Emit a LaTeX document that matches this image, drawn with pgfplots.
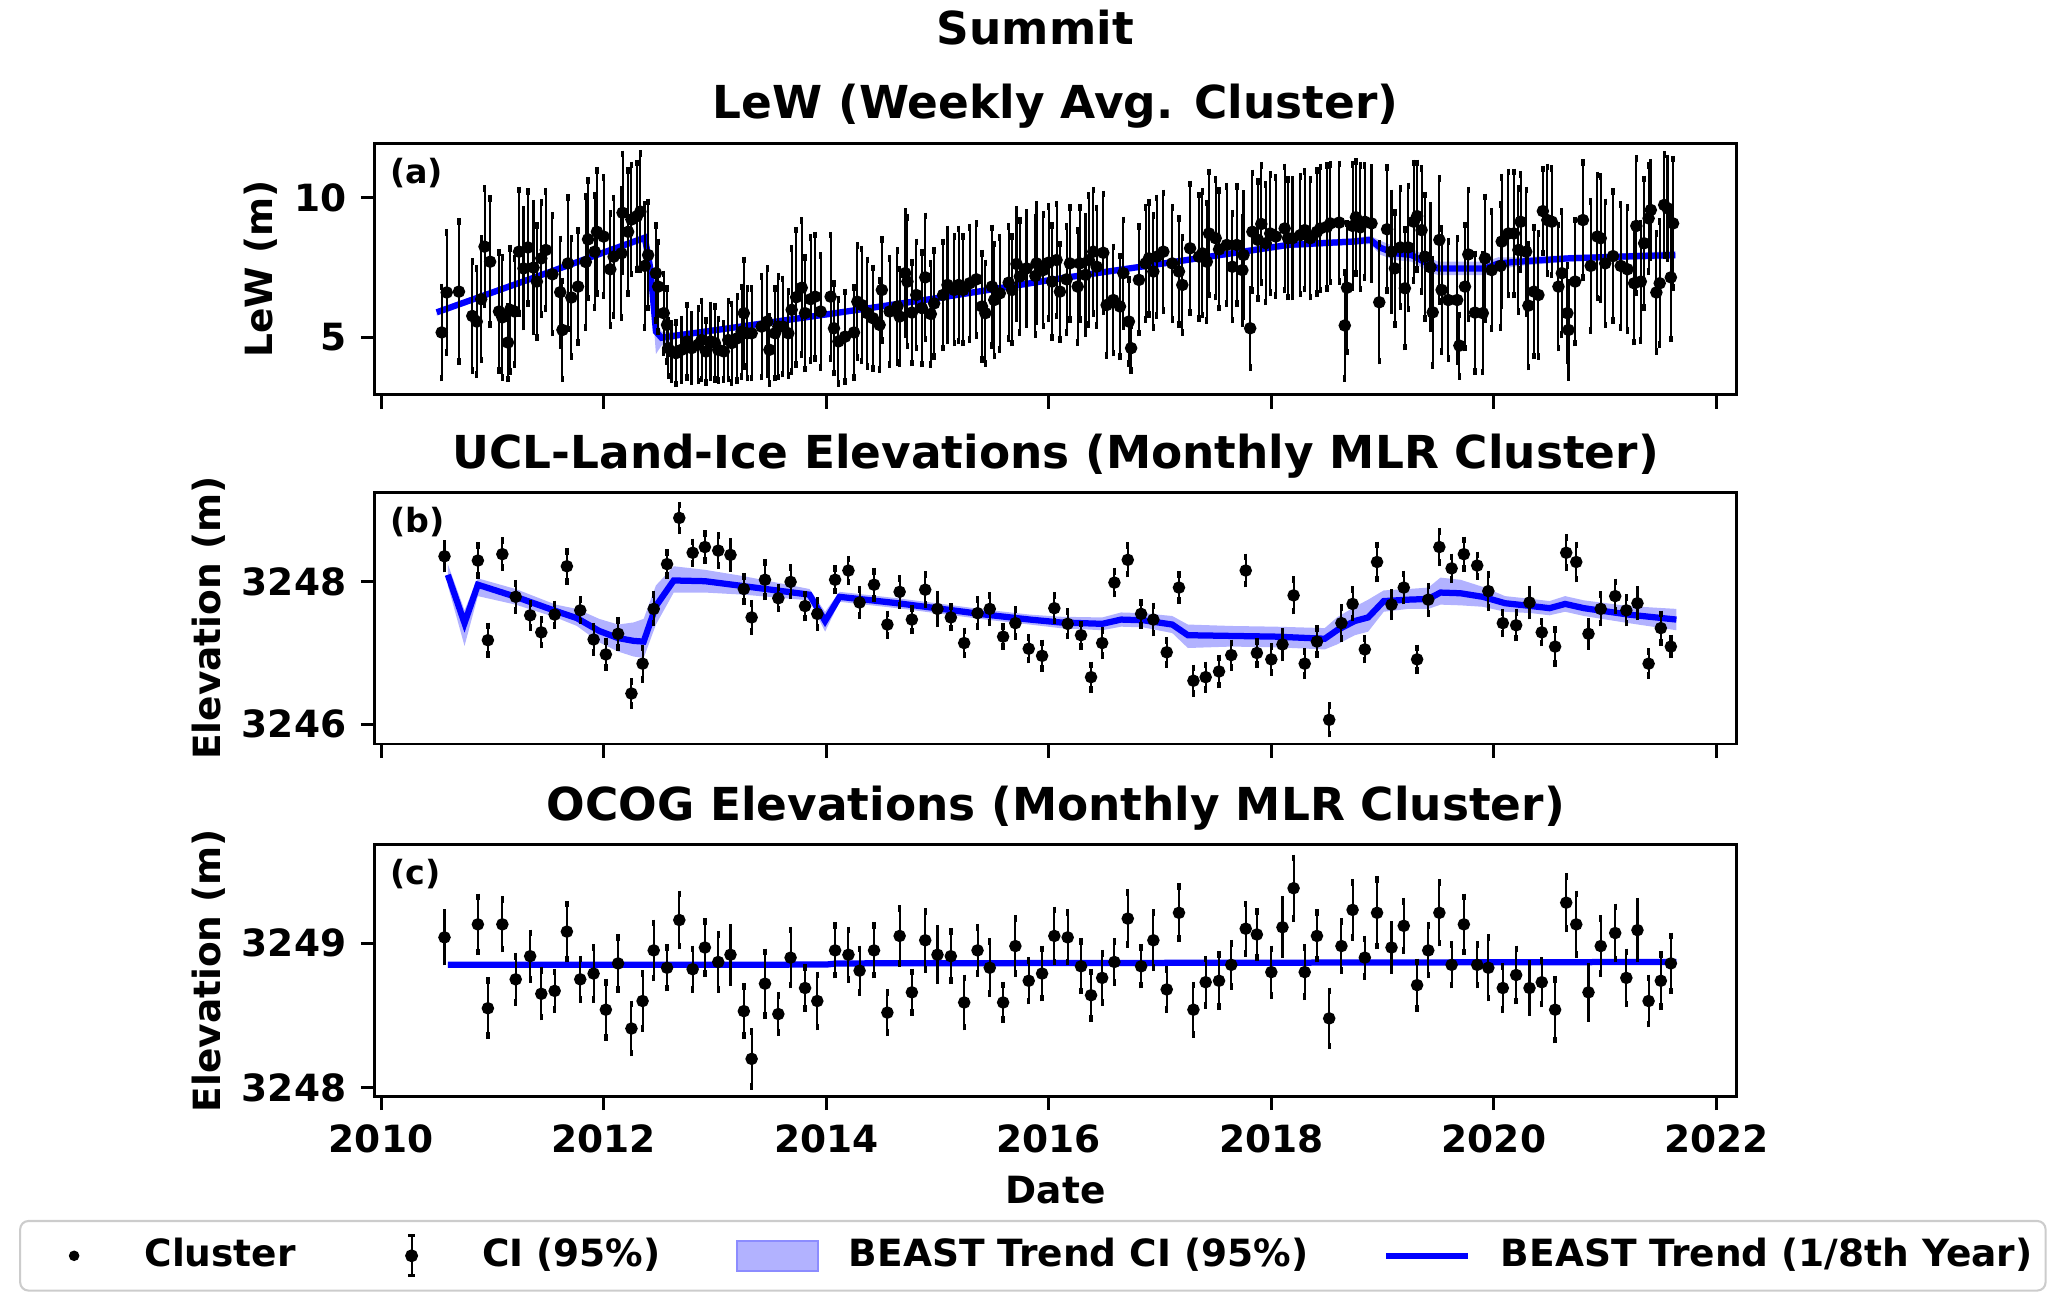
\documentclass[border=0pt]{standalone}
\usepackage{fontspec}
\setmainfont{DejaVu Sans}
\usepackage{pgfplots}
\usepackage{pgfplotstable}
\pgfplotsset{compat=1.18}
\usepgfplotslibrary{fillbetween}

\pgfplotstableread{
x y e
2010.545 5.17 1.63
2010.59 6.60 2.14
2010.70 6.63 2.5
2010.82 5.76 1.95
2010.86 5.56 1.9
2010.90 6.36 2.17
2010.93 8.24 2.08
2010.98 7.70 2.25
2011.06 5.92 2.1
2011.09 5.71 2.14
2011.14 4.81 1.3
2011.16 5.98 2.2
2011.20 5.92 1.9
2011.24 8.06 2.2
2011.28 7.46 2.1
2011.32 8.21 2.0
2011.37 7.49 2.3
2011.40 6.99 2.0
2011.44 7.82 2.0
2011.48 8.12 2.1
2011.54 7.25 2.1
2011.61 6.61 1.9
2011.63 5.26 1.75
2011.68 7.64 2.35
2011.71 6.42 2.1
2011.77 6.81 2.0
2011.84 7.69 2.35
2011.86 8.50 2.1
2011.92 8.06 2.0
2011.94 8.77 2.2
2012.00 8.60 2.1
2012.06 7.43 2.0
2012.09 7.88 2.1
2012.16 8.00 2.3
2012.17 9.45 2.1
2012.22 8.77 2.2
2012.25 9.21 1.95
2012.30 9.33 1.9
2012.33 9.49 2.08
2012.37 7.55 2.2
2012.40 7.94 1.9
2012.47 7.29 1.7
2012.49 6.81 1.6
2012.54 5.86 1.4
2012.57 5.44 1.3
2012.58 4.61 1.0
2012.61 4.49 1.0
2012.65 4.43 1.1
2012.70 4.55 1.1
2012.75 4.85 1.3
2012.79 4.61 1.2
2012.85 4.73 1.3
2012.88 4.90 1.4
2012.92 4.49 1.1
2012.96 4.85 1.3
2013.00 4.79 1.3
2013.03 4.55 1.1
2013.08 4.49 1.0
2013.12 4.90 1.4
2013.15 4.79 1.4
2013.20 4.96 1.5
2013.24 5.20 1.6
2013.26 5.86 1.9
2013.29 5.14 1.6
2013.33 5.14 1.6
2013.42 5.38 1.8
2013.47 5.56 1.9
2013.49 4.55 1.2
2013.54 5.14 1.6
2013.57 5.38 1.8
2013.61 5.38 1.7
2013.66 5.14 1.5
2013.69 5.98 2.2
2013.73 6.43 2.4
2013.78 6.77 2.4
2013.81 5.86 2.0
2013.86 6.36 2.2
2013.90 6.45 2.2
2013.95 5.92 2.0
2014.04 6.45 2.2
2014.07 5.32 1.6
2014.11 4.85 1.5
2014.17 5.02 1.6
2014.25 5.17 1.6
2014.28 6.27 2.0
2014.32 6.15 2.0
2014.37 5.86 1.9
2014.42 5.68 1.8
2014.48 5.44 1.6
2014.50 6.69 1.8
2014.57 5.92 1.9
2014.64 6.10 2.0
2014.66 5.74 1.7
2014.71 7.29 2.2
2014.73 6.99 2.3
2014.77 5.88 1.8
2014.81 6.51 1.9
2014.86 6.04 2.0
2014.89 7.14 2.2
2014.94 5.83 1.8
2014.97 6.21 1.9
2015.05 6.51 1.9
2015.09 6.87 2.0
2015.15 6.69 1.9
2015.19 6.87 2.0
2015.23 6.69 1.9
2015.29 6.93 2.0
2015.35 7.07 2.0
2015.40 6.10 1.9
2015.43 5.86 1.8
2015.49 6.81 2.1
2015.51 6.33 2.0
2015.56 6.57 2.0
2015.64 6.95 2.0
2015.67 6.69 1.9
2015.71 7.62 1.95
2015.74 7.17 2.0
2015.80 7.46 2.0
2015.88 7.19 2.1
2015.89 7.64 2.1
2015.95 7.40 2.0
2016.00 7.67 2.0
2016.03 6.99 2.0
2016.07 7.76 2.0
2016.10 6.63 1.7
2016.16 7.07 1.9
2016.19 7.64 2.0
2016.26 6.81 2.0
2016.28 7.64 2.0
2016.33 7.23 2.1
2016.36 7.76 2.3
2016.40 8.06 2.2
2016.43 7.52 2.1
2016.49 8.02 2.1
2016.52 6.15 1.8
2016.58 6.33 1.9
2016.64 6.10 1.8
2016.67 7.29 1.9
2016.72 5.56 1.5
2016.74 4.61 0.8
2016.81 7.05 1.9
2016.87 7.64 2.0
2016.90 7.82 2.0
2016.94 7.35 2.0
2016.97 7.88 2.1
2017.03 8.06 2.1
2017.11 7.64 2.0
2017.17 7.35 1.9
2017.20 6.87 1.7
2017.27 8.18 2.3
2017.35 7.88 2.2
2017.38 8.00 2.2
2017.42 7.70 2.1
2017.44 8.71 2.2
2017.50 8.54 2.1
2017.53 8.14 2.1
2017.60 8.30 2.1
2017.65 7.52 1.9
2017.69 8.30 2.1
2017.74 7.40 1.9
2017.75 7.94 2.2
2017.81 5.32 1.4
2017.83 8.77 2.1
2017.88 8.48 2.1
2017.91 9.05 2.1
2017.95 8.36 2.1
2017.99 8.71 2.1
2018.04 8.60 2.1
2018.12 8.89 2.2
2018.15 8.54 2.1
2018.19 8.54 2.1
2018.26 8.65 2.1
2018.30 8.83 2.1
2018.35 8.54 2.1
2018.41 8.77 2.2
2018.44 8.89 2.2
2018.50 8.95 2.2
2018.53 9.07 2.1
2018.61 9.10 2.1
2018.66 5.42 1.9
2018.68 6.77 2.3
2018.73 8.98 2.2
2018.76 9.29 2.0
2018.80 8.93 2.2
2018.84 9.13 2.0
2018.90 9.07 2.0
2018.97 6.25 2.1
2019.04 8.86 2.2
2019.08 8.06 2.1
2019.11 7.46 2.0
2019.16 8.21 2.1
2019.20 6.75 2.1
2019.23 8.21 2.2
2019.28 9.13 2.1
2019.31 9.33 1.9
2019.35 8.83 2.2
2019.38 7.88 2.2
2019.43 7.50 2.2
2019.45 5.89 1.9
2019.51 8.48 2.2
2019.53 6.69 2.2
2019.59 6.33 2.1
2019.67 6.33 2.2
2019.69 4.70 1.1
2019.74 6.81 2.2
2019.77 7.96 2.3
2019.83 5.88 2.1
2019.90 5.86 2.1
2019.92 7.82 2.2
2019.98 7.40 2.1
2020.06 7.55 2.2
2020.07 8.42 2.3
2020.13 8.71 2.2
2020.18 8.71 2.2
2020.22 8.12 2.2
2020.24 9.13 1.7
2020.29 8.06 2.2
2020.31 6.13 2.2
2020.36 6.63 2.3
2020.40 6.51 2.2
2020.44 9.51 1.5
2020.48 9.19 1.9
2020.52 9.13 1.9
2020.58 6.81 2.2
2020.61 7.29 2.2
2020.66 5.86 1.7
2020.67 5.26 1.7
2020.73 6.99 2.2
2020.80 9.19 2.05
2020.87 7.55 2.3
2020.93 8.60 2.2
2020.96 8.54 2.2
2021.00 7.64 2.2
2021.07 7.90 2.3
2021.14 7.55 2.2
2021.20 7.43 2.2
2021.26 6.93 2.1
2021.28 8.98 2.4
2021.32 6.99 2.1
2021.35 8.36 2.3
2021.39 9.25 1.9
2021.41 9.55 1.7
2021.46 6.60 2.1
2021.49 6.93 2.2
2021.53 9.73 1.8
2021.56 9.61 1.8
2021.59 7.14 2.2
2021.61 9.07 2.3
}\dataA

\pgfplotstableread{
x y lo hi
2010.50 5.89 5.78 6.00
2011.00 6.60 6.49 6.71
2011.50 7.31 7.20 7.42
2012.00 8.03 7.92 8.14
2012.37 8.56 8.42 8.68
2012.42 7.46 7.10 7.80
2012.47 5.20 4.40 5.60
2012.52 4.98 4.70 5.20
2012.65 5.06 4.95 5.17
2013.00 5.25 5.14 5.36
2014.08 5.86 5.75 5.97
2015.00 6.40 6.29 6.51
2016.10 7.10 6.99 7.21
2017.00 7.62 7.51 7.73
2018.15 8.30 8.18 8.42
2018.73 8.42 8.30 8.54
2018.89 8.48 8.33 8.63
2018.98 8.20 7.95 8.45
2019.11 8.00 7.76 8.24
2019.26 7.94 7.70 8.18
2019.44 7.55 7.30 7.80
2019.50 7.46 7.22 7.70
2019.92 7.46 7.22 7.70
2020.04 7.64 7.42 7.86
2020.22 7.70 7.55 7.85
2020.67 7.82 7.70 7.94
2021.12 7.88 7.76 8.00
2021.63 7.94 7.80 8.08
}\trendA

\pgfplotstableread{
x y e
2010.57 3248.36 0.18
2010.87 3248.30 0.21
2010.96 3247.18 0.20
2011.09 3248.39 0.19
2011.21 3247.79 0.19
2011.34 3247.53 0.17
2011.44 3247.29 0.18
2011.56 3247.54 0.15
2011.67 3248.22 0.21
2011.79 3247.60 0.15
2011.91 3247.19 0.18
2012.02 3246.98 0.18
2012.13 3247.27 0.19
2012.25 3246.43 0.17
2012.35 3246.85 0.22
2012.45 3247.62 0.20
2012.57 3248.25 0.16
2012.68 3248.90 0.18
2012.80 3248.41 0.15
2012.91 3248.49 0.19
2013.03 3248.44 0.21
2013.14 3248.38 0.19
2013.26 3247.90 0.18
2013.33 3247.50 0.20
2013.45 3248.03 0.24
2013.57 3247.77 0.15
2013.68 3248.00 0.20
2013.81 3247.66 0.17
2013.92 3247.55 0.19
2014.08 3248.03 0.16
2014.20 3248.16 0.16
2014.30 3247.71 0.18
2014.43 3247.96 0.19
2014.55 3247.40 0.15
2014.66 3247.86 0.19
2014.77 3247.47 0.16
2014.89 3247.89 0.21
2015.00 3247.62 0.21
2015.12 3247.50 0.15
2015.24 3247.14 0.17
2015.36 3247.56 0.19
2015.47 3247.62 0.19
2015.59 3247.23 0.14
2015.70 3247.42 0.19
2015.82 3247.06 0.16
2015.94 3246.96 0.18
2016.05 3247.63 0.18
2016.17 3247.41 0.17
2016.29 3247.25 0.16
2016.38 3246.66 0.17
2016.48 3247.14 0.18
2016.59 3247.99 0.16
2016.71 3248.31 0.20
2016.83 3247.55 0.16
2016.94 3247.47 0.19
2017.06 3247.01 0.17
2017.17 3247.92 0.18
2017.30 3246.61 0.18
2017.41 3246.66 0.17
2017.53 3246.74 0.19
2017.64 3246.97 0.17
2017.77 3248.16 0.19
2017.87 3247.00 0.16
2018.00 3246.91 0.18
2018.10 3247.12 0.19
2018.20 3247.81 0.22
2018.30 3246.85 0.17
2018.41 3247.16 0.18
2018.52 3246.06 0.20
2018.63 3247.42 0.22
2018.73 3247.69 0.20
2018.84 3247.05 0.15
2018.95 3248.28 0.24
2019.08 3247.68 0.17
2019.19 3247.92 0.19
2019.31 3246.91 0.16
2019.41 3247.75 0.19
2019.51 3248.49 0.22
2019.62 3248.19 0.16
2019.73 3248.39 0.20
2019.85 3248.23 0.15
2019.95 3247.87 0.23
2020.08 3247.42 0.15
2020.20 3247.39 0.18
2020.32 3247.71 0.19
2020.43 3247.29 0.15
2020.55 3247.09 0.24
2020.65 3248.41 0.21
2020.74 3248.28 0.24
2020.85 3247.27 0.18
2020.96 3247.62 0.20
2021.09 3247.80 0.20
2021.19 3247.60 0.18
2021.29 3247.70 0.19
2021.39 3246.85 0.17
2021.50 3247.35 0.20
2021.59 3247.09 0.12
}\dataB

\pgfplotstableread{
x y lo hi
2010.60 3248.10 3247.95 3248.25
2010.75 3247.42 3247.10 3247.60
2010.87 3247.96 3247.80 3248.05
2011.21 3247.79 3247.68 3247.90
2011.57 3247.59 3247.50 3247.68
2011.76 3247.49 3247.38 3247.62
2011.96 3247.31 3247.15 3247.48
2012.13 3247.21 3247.02 3247.40
2012.27 3247.17 3246.95 3247.43
2012.36 3247.16 3246.93 3247.48
2012.47 3247.66 3247.40 3247.95
2012.63 3248.02 3247.85 3248.22
2012.91 3248.01 3247.85 3248.17
2013.26 3247.94 3247.82 3248.08
2013.85 3247.82 3247.74 3247.90
2013.99 3247.45 3247.30 3247.58
2014.12 3247.79 3247.72 3247.86
2014.64 3247.70 3247.63 3247.77
2015.04 3247.62 3247.55 3247.69
2015.43 3247.54 3247.47 3247.61
2015.83 3247.47 3247.40 3247.54
2016.10 3247.43 3247.35 3247.51
2016.48 3247.41 3247.32 3247.50
2016.65 3247.47 3247.37 3247.57
2016.85 3247.46 3247.36 3247.56
2017.11 3247.40 3247.28 3247.52
2017.25 3247.25 3247.07 3247.40
2017.64 3247.24 3247.09 3247.38
2018.04 3247.23 3247.08 3247.37
2018.48 3247.20 3247.05 3247.35
2018.59 3247.32 3247.12 3247.50
2018.75 3247.45 3247.25 3247.65
2018.87 3247.50 3247.30 3247.75
2019.01 3247.73 3247.58 3247.88
2019.23 3247.75 3247.62 3247.90
2019.41 3247.76 3247.62 3247.92
2019.52 3247.85 3247.68 3248.06
2019.70 3247.84 3247.67 3248.03
2019.90 3247.79 3247.65 3247.93
2020.10 3247.70 3247.58 3247.80
2020.34 3247.66 3247.56 3247.76
2020.50 3247.63 3247.53 3247.73
2020.64 3247.69 3247.58 3247.80
2020.81 3247.63 3247.52 3247.74
2021.21 3247.54 3247.42 3247.66
2021.64 3247.47 3247.32 3247.62
}\trendB

\pgfplotstableread{
x y e
2010.57 3249.04 0.17
2010.87 3249.13 0.19
2010.96 3248.55 0.19
2011.09 3249.13 0.17
2011.21 3248.75 0.16
2011.34 3248.91 0.16
2011.44 3248.65 0.16
2011.56 3248.67 0.13
2011.67 3249.08 0.19
2011.79 3248.75 0.14
2011.91 3248.79 0.18
2012.02 3248.54 0.19
2012.13 3248.86 0.18
2012.25 3248.41 0.17
2012.35 3248.60 0.19
2012.45 3248.95 0.19
2012.57 3248.83 0.14
2012.68 3249.16 0.18
2012.80 3248.82 0.14
2012.91 3248.97 0.18
2013.03 3248.87 0.19
2013.14 3248.92 0.19
2013.26 3248.53 0.17
2013.33 3248.20 0.19
2013.45 3248.72 0.22
2013.57 3248.51 0.13
2013.68 3248.90 0.19
2013.81 3248.69 0.14
2013.92 3248.60 0.18
2014.08 3248.95 0.17
2014.20 3248.92 0.17
2014.30 3248.81 0.15
2014.43 3248.95 0.17
2014.55 3248.52 0.14
2014.66 3249.05 0.19
2014.77 3248.66 0.14
2014.89 3249.02 0.20
2015.00 3248.92 0.18
2015.12 3248.91 0.17
2015.24 3248.59 0.17
2015.36 3248.95 0.16
2015.47 3248.83 0.18
2015.59 3248.59 0.12
2015.70 3248.98 0.19
2015.82 3248.74 0.14
2015.94 3248.79 0.17
2016.05 3249.05 0.18
2016.17 3249.04 0.17
2016.29 3248.84 0.17
2016.38 3248.64 0.16
2016.48 3248.76 0.17
2016.59 3248.87 0.14
2016.71 3249.17 0.18
2016.83 3248.84 0.13
2016.94 3249.02 0.19
2017.06 3248.68 0.14
2017.17 3249.21 0.18
2017.30 3248.54 0.17
2017.41 3248.73 0.16
2017.53 3248.74 0.18
2017.64 3248.85 0.15
2017.77 3249.10 0.17
2017.87 3249.06 0.16
2018.00 3248.80 0.16
2018.10 3249.11 0.19
2018.20 3249.38 0.21
2018.30 3248.80 0.17
2018.41 3249.05 0.16
2018.52 3248.48 0.19
2018.63 3248.98 0.17
2018.73 3249.23 0.19
2018.84 3248.90 0.13
2018.95 3249.21 0.23
2019.08 3248.97 0.16
2019.19 3249.12 0.17
2019.31 3248.71 0.16
2019.41 3248.95 0.17
2019.51 3249.21 0.21
2019.62 3248.85 0.14
2019.73 3249.13 0.19
2019.85 3248.85 0.14
2019.95 3248.83 0.21
2020.08 3248.69 0.15
2020.20 3248.78 0.18
2020.32 3248.69 0.17
2020.43 3248.73 0.15
2020.55 3248.54 0.21
2020.65 3249.28 0.18
2020.74 3249.13 0.21
2020.85 3248.66 0.18
2020.96 3248.98 0.19
2021.09 3249.07 0.18
2021.19 3248.76 0.18
2021.29 3249.09 0.20
2021.39 3248.60 0.16
2021.50 3248.74 0.18
2021.59 3248.86 0.19
}\dataC

\pgfplotstableread{
x y lo hi
2010.60 3248.850 3248.835 3248.865
2012.00 3248.850 3248.835 3248.865
2014.00 3248.852 3248.837 3248.867
2014.10 3248.860 3248.845 3248.875
2018.00 3248.865 3248.850 3248.880
2021.64 3248.870 3248.852 3248.888
}\trendC

\pgfplotsset{
  panel/.style={
    scale only axis, width=326.83pt, height=60.4pt, anchor=south west,
    xmin=2009.943, xmax=2022.18,
    xtick={2010,2012,2014,2016,2018,2020,2022},
    xtick pos=lower, ytick pos=left,
    tick align=outside, major tick length=3.3pt,
    minor tick num=0,
    every tick/.style={black, line width=0.7pt},
    axis line style={line width=0.7pt},
    tick label style={font=\fontsize{9}{10.8}\selectfont\bfseries},
    /pgf/number format/assume math mode=true,
    /pgf/number format/1000 sep={},
    /pgf/number format/fixed,
    scaled ticks=false,
  },
  errplot/.style={black, only marks, mark=*, mark size=1.3pt,
    error bars/.cd, y dir=both, y explicit,
    error bar style={line width=0.5pt, black},
    error mark options={line width=0.8pt, mark size=0.8pt, black}},
  trendline/.style={blue, line width=1.5pt},
  bandfill/.style={fill=blue, fill opacity=0.3, draw=none},
}

\begin{document}
\begin{tikzpicture}

% Panel (a)
\begin{axis}[panel, at={(89.93pt,218.2pt)}, xticklabels={},
  ymin=2.94, ymax=11.94, ytick={5,10}]
\addplot[name path=ahi, draw=none, forget plot] table[x=x,y=hi]{\trendA};
\addplot[name path=alo, draw=none, forget plot] table[x=x,y=lo]{\trendA};
\addplot[bandfill, forget plot] fill between[of=ahi and alo];
\addplot[trendline, forget plot] table[x=x,y=y]{\trendA};
\addplot[forget plot, errplot] table[x=x,y=y,y error=e]{\dataA};
\node[anchor=north west, inner sep=0pt, font=\fontsize{8}{9.6}\selectfont\bfseries, xshift=3.5pt, yshift=-3.3pt] at (rel axis cs:0,1) {(a)};
\end{axis}

% Panel (b)
\begin{axis}[panel, at={(89.93pt,134.4pt)}, xticklabels={},
  ymin=3245.72, ymax=3249.26, ytick={3246,3248}]
\addplot[name path=bhi, draw=none, forget plot] table[x=x,y=hi]{\trendB};
\addplot[name path=blo, draw=none, forget plot] table[x=x,y=lo]{\trendB};
\addplot[bandfill, forget plot] fill between[of=bhi and blo];
\addplot[trendline, forget plot] table[x=x,y=y]{\trendB};
\addplot[forget plot, errplot] table[x=x,y=y,y error=e]{\dataB};
\node[anchor=north west, inner sep=0pt, font=\fontsize{8}{9.6}\selectfont\bfseries, xshift=3.5pt, yshift=-3.3pt] at (rel axis cs:0,1) {(b)};
\end{axis}

% Panel (c)
\begin{axis}[panel, at={(89.93pt,49.8pt)},
  ymin=3247.94, ymax=3249.68, ytick={3248,3249},
  legend columns=4,
  legend style={at={(axis description cs:0.4833,-0.633)}, anchor=center,
    draw=black!20, rounded corners=2pt, line width=0.5pt, fill=white,
    inner xsep=3.15pt, inner ysep=3.15pt,
    nodes={inner sep=0pt},
    font=\fontsize{9}{10.8}\selectfont\bfseries,
    /tikz/every odd column/.style={column sep=7.1pt},
    /tikz/every even column/.style={column sep=18pt}},
]
\addlegendimage{legend image code/.code={
  \path[draw=none, fill=none, sharp corners] (0pt,-4.8pt) rectangle (19.6pt,4.8pt);
  \fill[black] (9.8pt,0pt) circle (1pt);}}
\addlegendentry{Cluster}
\addlegendimage{legend image code/.code={
  \path[draw=none, fill=none, sharp corners] (0pt,-4.8pt) rectangle (19.6pt,4.8pt);
  \draw[black, line width=0.5pt] (9.8pt,-4.8pt) -- (9.8pt,4.8pt);
  \draw[black, line width=0.8pt] (9.0pt,-4.8pt) -- (10.6pt,-4.8pt);
  \draw[black, line width=0.8pt] (9.0pt,4.8pt) -- (10.6pt,4.8pt);
  \fill[black] (9.8pt,0pt) circle (1.3pt);}}
\addlegendentry{CI (95\%)}
\addlegendimage{legend image code/.code={
  \path[draw=none, fill=none, sharp corners] (0pt,-4.8pt) rectangle (19.6pt,4.8pt);
  \draw[fill=blue!30, draw=blue!45, line width=0.5pt, sharp corners] (0pt,-3.6pt) rectangle (19.6pt,3.6pt);}}
\addlegendentry{BEAST Trend CI (95\%)}
\addlegendimage{legend image code/.code={
  \path[draw=none, fill=none, sharp corners] (0pt,-4.8pt) rectangle (19.6pt,4.8pt);
  \draw[blue, line width=1.5pt] (0pt,0pt) -- (19.6pt,0pt);}}
\addlegendentry{BEAST Trend (1/8th Year)}
\addplot[name path=chi, draw=none, forget plot] table[x=x,y=hi]{\trendC};
\addplot[name path=clo, draw=none, forget plot] table[x=x,y=lo]{\trendC};
\addplot[bandfill, forget plot] fill between[of=chi and clo];
\addplot[trendline, forget plot] table[x=x,y=y]{\trendC};
\addplot[forget plot, errplot] table[x=x,y=y,y error=e]{\dataC};
\node[anchor=north west, inner sep=0pt, font=\fontsize{8}{9.6}\selectfont\bfseries, xshift=3.5pt, yshift=-3.3pt] at (rel axis cs:0,1) {(c)};
\end{axis}

% Titles and labels
\node[anchor=base, font=\fontsize{10.9}{13}\selectfont\bfseries] at (248.5pt,302.2pt) {Summit};
\node[anchor=base, font=\fontsize{10.9}{13}\selectfont\bfseries] at (253.35pt,284.57pt) {LeW (Weekly Avg. Cluster)};
\node[anchor=base, font=\fontsize{10.9}{13}\selectfont\bfseries] at (253.35pt,200.5pt) {UCL-Land-Ice Elevations (Monthly MLR Cluster)};
\node[anchor=base, font=\fontsize{10.9}{13}\selectfont\bfseries] at (253.35pt,115.94pt) {OCOG Elevations (Monthly MLR Cluster)};
\node[anchor=base, font=\fontsize{9}{10.8}\selectfont\bfseries] at (253.35pt,24.2pt) {Date};
\node[anchor=base, rotate=90, font=\fontsize{9}{10.8}\selectfont\bfseries] at (65.3pt,248.4pt) {LeW (m)};
\node[anchor=base, rotate=90, font=\fontsize{9}{10.8}\selectfont\bfseries] at (53.0pt,164.6pt) {Elevation (m)};
\node[anchor=base, rotate=90, font=\fontsize{9}{10.8}\selectfont\bfseries] at (53.0pt,80.0pt) {Elevation (m)};

\pgfresetboundingbox
\path[use as bounding box] (0pt,0pt) rectangle (496.08pt,312.96pt);
\end{tikzpicture}
\end{document}
